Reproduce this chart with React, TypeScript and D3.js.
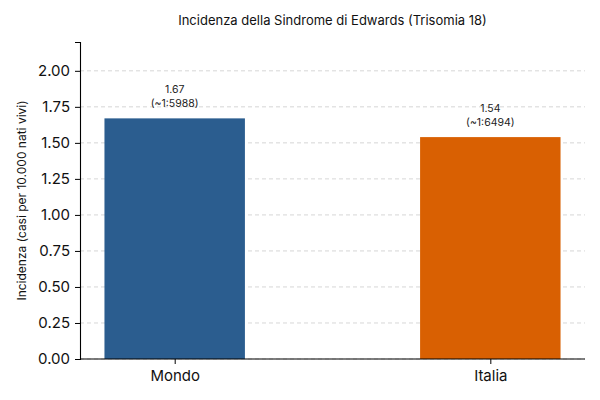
import { useEffect, useRef } from "react";
import * as d3 from "d3";

const categories = ["Mondo", "Italia"];
const values = [1.67, 1.54];
const ratioLabels = ["(~1:5988)", "(~1:6494)"];
const colors = ["#2b5d8f", "#d96002"];
const yTicks = [0, 0.25, 0.5, 0.75, 1.0, 1.25, 1.5, 1.75, 2.0];

export default function App() {
  const svgRef = useRef<SVGSVGElement>(null);

  useEffect(() => {
    if (!svgRef.current) return;
    const svg = d3.select(svgRef.current);
    const width = 600;
    const height = 400;
    const margin = { top: 42, right: 15, bottom: 41, left: 80 };
    const font = "Inter, 'Open Sans', sans-serif";

    svg.selectAll("*").remove();

    const x = d3
      .scaleLinear()
      .domain([-0.3, categories.length - 1 + 0.3])
      .range([margin.left, width - margin.right]);
    const y = d3
      .scaleLinear()
      .domain([0, 2.2])
      .range([height - margin.bottom, margin.top]);
    const barW = 0.445;

    // grid
    svg
      .append("g")
      .selectAll("line")
      .data(yTicks)
      .enter()
      .append("line")
      .attr("x1", margin.left)
      .attr("x2", width - margin.right)
      .attr("y1", (d) => y(d))
      .attr("y2", (d) => y(d))
      .attr("stroke", "#cccccc")
      .attr("stroke-width", 0.8)
      .attr("stroke-dasharray", "4,3");

    // bars
    svg
      .append("g")
      .selectAll("rect")
      .data(values)
      .enter()
      .append("rect")
      .attr("x", (_, i) => x(i - barW / 2))
      .attr("y", (d) => y(d))
      .attr("width", (_, i) => x(i + barW / 2) - x(i - barW / 2))
      .attr("height", (d) => y(0) - y(d))
      .attr("fill", (_, i) => colors[i]);

    // value labels
    const lbl = svg
      .append("g")
      .attr("font-family", font)
      .attr("font-size", 10.5)
      .attr("fill", "#222")
      .attr("text-anchor", "middle");
    values.forEach((v, i) => {
      lbl
        .append("text")
        .attr("x", x(i))
        .attr("y", y(v) - 25)
        .text(v.toFixed(2));
      lbl
        .append("text")
        .attr("x", x(i))
        .attr("y", y(v) - 11)
        .text(ratioLabels[i]);
    });

    // y axis
    const yAxis = svg
      .append("g")
      .attr("transform", `translate(${margin.left},0)`)
      .call(
        d3
          .axisLeft(y)
          .tickValues(yTicks)
          .tickFormat((d) => (d as number).toFixed(2))
          .tickSize(5)
          .tickPadding(5),
      );
    yAxis.select(".domain").attr("stroke", "#000").attr("stroke-width", 1.1);
    yAxis
      .selectAll("text")
      .attr("font-family", font)
      .attr("font-size", 15)
      .attr("fill", "#111");

    // x axis
    const xAxis = svg
      .append("g")
      .attr("transform", `translate(0,${height - margin.bottom})`)
      .call(
        d3
          .axisBottom(x)
          .tickValues(categories.map((_, i) => i))
          .tickFormat((d) => categories[d as number])
          .tickSize(5)
          .tickPadding(6),
      );
    xAxis
      .select(".domain")
      .attr("stroke", "#000")
      .attr("stroke-width", 1.1)
      .attr("d", `M${margin.left},0H${width - margin.right}`);
    xAxis
      .selectAll("text")
      .attr("font-family", font)
      .attr("font-size", 15)
      .attr("fill", "#111");

    // title
    svg
      .append("text")
      .attr("x", (margin.left + width - margin.right) / 2)
      .attr("y", 25)
      .attr("text-anchor", "middle")
      .attr("font-family", font)
      .attr("font-size", 13)
      .attr("fill", "#111")
      .text("Incidenza della Sindrome di Edwards (Trisomia 18)");

    // y label
    svg
      .append("text")
      .attr(
        "transform",
        `translate(26,${(margin.top + height - margin.bottom) / 2}) rotate(-90)`,
      )
      .attr("text-anchor", "middle")
      .attr("font-family", font)
      .attr("font-size", 12)
      .attr("fill", "#111")
      .text("Incidenza (casi per 10.000 nati vivi)");
  }, []);

  return (
    <svg
      ref={svgRef}
      width={600}
      height={400}
      style={{ display: "block", position: "absolute", left: 0, top: 0, background: "#fff" }}
    />
  );
}
